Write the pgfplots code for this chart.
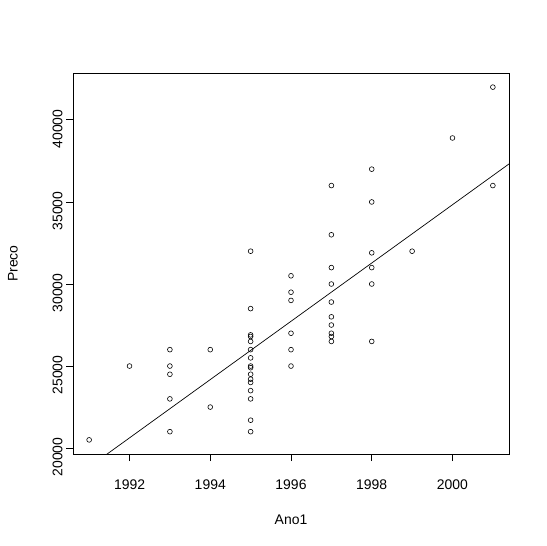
\documentclass[border=0pt]{standalone}
\usepackage{pgfplots}
\pgfplotsset{compat=1.18}
\usepackage{fontspec}
\setmainfont{Liberation Sans}
\begin{document}
\begin{tikzpicture}
\path[use as bounding box] (-73bp,-92bp) rectangle (474bp,454bp);
\begin{axis}[
  at={(0,0)}, anchor=south west,
  scale only axis, width=436bp, height=381bp,
  xmin=1990.6, xmax=2001.4, ymin=19640, ymax=42860,
  xtick={1992,1994,1996,1998,2000},
  ytick={20000,25000,30000,35000,40000},
  scaled ticks=false,
  tick align=outside,
  tick pos=left,
  major tick length=7bp,
  /pgf/number format/1000 sep={},
  /pgf/number format/assume math mode=true,
  font=\fontsize{14}{16}\selectfont,
  yticklabel style={rotate=90, anchor=south, xshift=-9bp},
  xticklabel style={yshift=-15bp},
  axis line style={line width=0.8pt},
  major tick style={line width=0.9pt, black},
  xlabel={Ano1}, ylabel={Preco},
  every axis x label/.style={at={(axis description cs:0.5,0)}, yshift=-66bp, anchor=center},
  every axis y label/.style={at={(axis description cs:0,0.5)}, xshift=-60bp, rotate=90, anchor=center},
  clip mode=individual,
]
\addplot[only marks, mark=o, mark size=2.4bp, mark options={line width=0.6pt}] coordinates {
(1991,20500)
(1992,25000)
(1993,26000) (1993,25000) (1993,24500) (1993,23000) (1993,21000)
(1994,26000) (1994,22500)
(1995,32000) (1995,28500) (1995,26900) (1995,26800) (1995,26500) (1995,26000) (1995,25500)
(1995,25000) (1995,24900) (1995,24500) (1995,24200) (1995,24000) (1995,23500) (1995,23000)
(1995,21700) (1995,21000)
(1996,30500) (1996,29500) (1996,29000) (1996,27000) (1996,26000) (1996,25000)
(1997,36000) (1997,33000) (1997,31000) (1997,30000) (1997,28900) (1997,28000) (1997,27500)
(1997,27000) (1997,26800) (1997,26500)
(1998,37000) (1998,35000) (1998,31900) (1998,31000) (1998,30000) (1998,26500)
(1999,32000)
(2000,38900)
(2001,42000) (2001,36000)
};
\addplot[black, line width=0.7pt] coordinates {(1990.6,18137) (2001.4,37318)};
\end{axis}
\end{tikzpicture}
\end{document}
